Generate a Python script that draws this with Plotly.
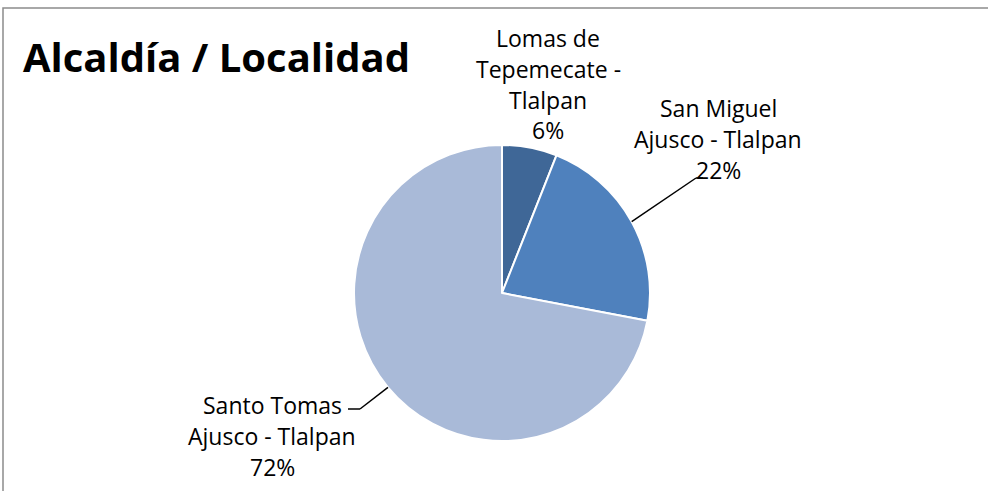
import math
import plotly.graph_objects as go

labels = ["Lomas de Tepemecate - Tlalpan", "San Miguel Ajusco - Tlalpan", "Santo Tomas Ajusco - Tlalpan"]
values = [6, 22, 72]
colors = ["#3F6797", "#4F81BD", "#A9BAD8"]
title_text = "Alcaldía / Localidad"

W, H = 988, 491
CX, CY, R = 502, 293, 148  # pie centre / radius in pixels

def px(x):
    return x / W

def py(y):
    return 1 - y / H

fig = go.Figure(go.Pie(
    labels=labels, values=values, sort=False, direction="clockwise", rotation=0,
    marker=dict(colors=colors, line=dict(color="white", width=2)),
    textinfo="none", hoverinfo="label+percent", showlegend=False,
    domain=dict(x=[px(CX - R), px(CX + R)], y=[py(CY + R), py(CY - R)]),
))

total = sum(values)
pcts = [round(100 * v / total) for v in values]
mids = []
cum = 0
for v in values:
    mids.append(360 * (cum + v / 2) / total)
    cum += v

def edge(i):
    a = math.radians(mids[i])
    return CX + R * math.sin(a), CY - R * math.cos(a)

label_lines = [
    ["Lomas de", "Tepemecate -", "Tlalpan", f"{pcts[0]}%"],
    ["San Miguel", "Ajusco - Tlalpan", f"{pcts[1]}%"],
    ["Santo Tomas", "Ajusco - Tlalpan", f"{pcts[2]}%"],
]
label_pos = [(548, 38), (718, 108), (272, 405)]
LS = 30.8

annotations = []
font = dict(family="Open Sans", size=23, color="#000000")
for lines, (lx, ly) in zip(label_lines, label_pos):
    for k, t in enumerate(lines):
        annotations.append(dict(text=t, x=px(lx), y=py(ly + k * LS), xref="paper", yref="paper",
                                showarrow=False, xanchor="center", yanchor="middle", font=font))

annotations.append(dict(text=f"<b>{title_text}</b>", x=px(21), y=py(57), xref="paper", yref="paper",
                        showarrow=False, xanchor="left", yanchor="middle",
                        font=dict(family="Open Sans", size=40, color="#000000")))

shapes = [
    dict(type="rect", xref="paper", yref="paper", x0=px(3), y0=-0.2, x1=1.2, y1=py(8),
         line=dict(color="#8C8C8C", width=1.5), fillcolor="rgba(0,0,0,0)", layer="below"),
]
ex, ey = edge(1)
shapes.append(dict(type="line", xref="paper", yref="paper", x0=px(ex), y0=py(ey), x1=px(696), y1=py(178),
                   line=dict(color="black", width=1.5)))
shapes.append(dict(type="line", xref="paper", yref="paper", x0=px(696), y0=py(178), x1=px(703), y1=py(178),
                   line=dict(color="black", width=1.5)))
ex, ey = edge(2)
shapes.append(dict(type="line", xref="paper", yref="paper", x0=px(ex), y0=py(ey), x1=px(360), y1=py(409),
                   line=dict(color="black", width=1.5)))
shapes.append(dict(type="line", xref="paper", yref="paper", x0=px(360), y0=py(409), x1=px(348), y1=py(409),
                   line=dict(color="black", width=1.5)))

fig.update_layout(
    width=W, height=H, margin=dict(l=0, r=0, t=0, b=0),
    paper_bgcolor="white", plot_bgcolor="white",
    annotations=annotations, shapes=shapes,
)
fig.write_html("out.html", config={"displayModeBar": False},
               post_script="document.body.style.margin='0';document.body.style.overflow='hidden';")
